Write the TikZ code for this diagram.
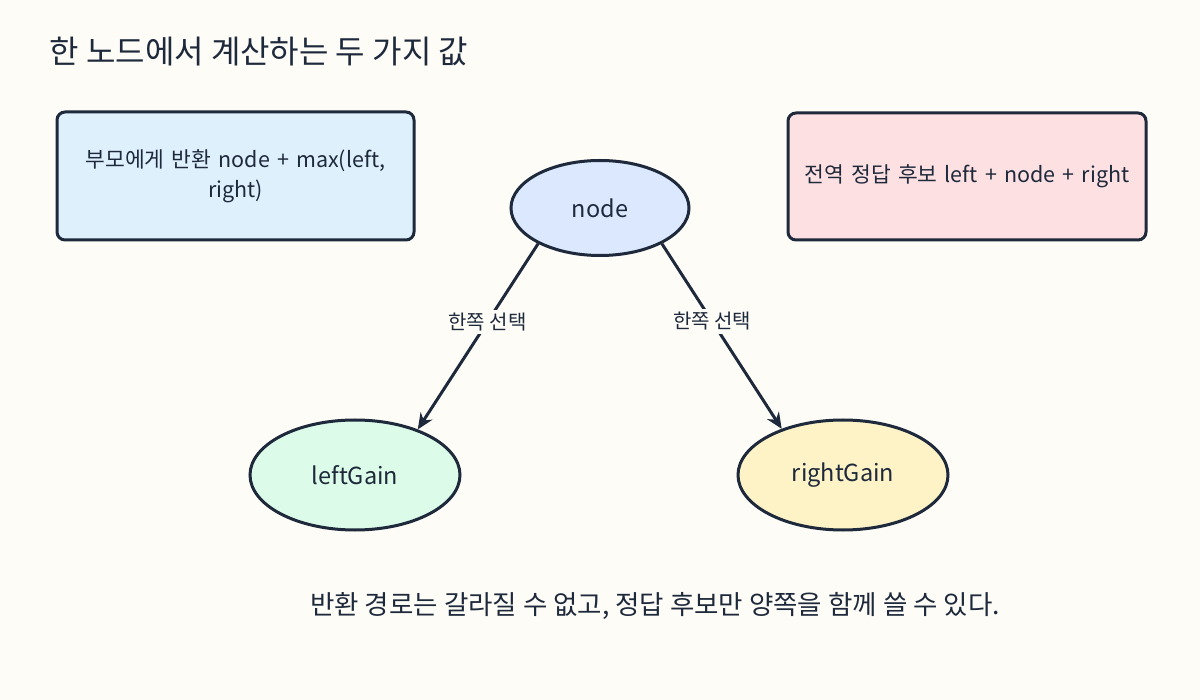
\documentclass[tikz,border=0pt]{standalone}
\usepackage{fontspec}
\setmainfont{Noto Sans CJK KR}
\usetikzlibrary{shapes.geometric,arrows.meta}
\definecolor{bg}{HTML}{FDFCF7}
\definecolor{ink}{HTML}{1E293B}
\definecolor{boxblue}{HTML}{DFF0FD}
\definecolor{boxpink}{HTML}{FDE0E2}
\definecolor{elblue}{HTML}{DBE8FD}
\definecolor{elgreen}{HTML}{DCFCE9}
\definecolor{elyellow}{HTML}{FEF3C7}
\tikzset{
  infobox/.style={draw=ink, line width=3pt, rounded corners=8pt, inner sep=0pt, text=ink,
    font=\fontsize{21.5}{30}\selectfont, align=center},
  ell/.style={ellipse, draw=ink, line width=3pt, inner sep=0pt, text=ink,
    font=\fontsize{23.5}{28}\selectfont},
  conn/.style={draw=ink, line width=3pt, -{Stealth[length=16pt,width=14pt]}},
  lbl/.style={fill=bg, text=ink, inner sep=3pt, font=\fontsize{20}{24}\selectfont},
}
\begin{document}
\begin{tikzpicture}[x=1pt,y=-1pt]
\fill[bg] (0,0) rectangle (1200,700);
\useasboundingbox (0,0) rectangle (1200,700);
\node[anchor=west, text=ink, font=\fontsize{32}{38}\selectfont] (title) at (46,52) {한 노드에서 계산하는 두 가지 값};
\node[infobox, fill=boxblue, minimum width=357pt, minimum height=128pt, text width=320pt] (ret) at (235.5,176) {부모에게 반환 node + max(left,\\ right)};
\node[infobox, fill=boxpink, minimum width=358pt, minimum height=127pt, text width=350pt] (glob) at (967,176.5) {전역 정답 후보 left + node + right};
\node[ell, fill=elblue, minimum width=178pt, minimum height=95pt] (node) at (600,208) {node};
\node[ell, fill=elgreen, minimum width=210pt, minimum height=110pt] (lg) at (355,475) {\raisebox{-3pt}{leftGain}};
\node[ell, fill=elyellow, minimum width=210pt, minimum height=110pt] (rg) at (843,475) {rightGain};
\draw[conn] (node.210) -- node[lbl, pos=0.42] {한쪽 선택} (lg.36);
\draw[conn] (node.330) -- node[lbl, pos=0.42] {한쪽 선택} (rg.143);
\node[text=ink, font=\fontsize{26.5}{32}\selectfont] (note) at (655,606) {반환 경로는 갈라질 수 없고, 정답 후보만 양쪽을 함께 쓸 수 있다.};
\end{tikzpicture}
\end{document}
